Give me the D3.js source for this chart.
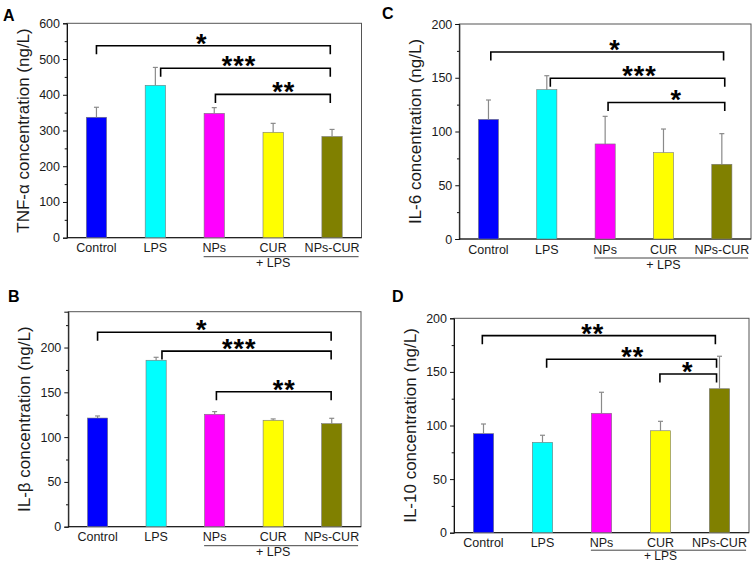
<!DOCTYPE html>
<html>
<head>
<meta charset="utf-8">
<script src="https://cdn.jsdelivr.net/npm/d3@7/dist/d3.min.js"></script>
<style>
  html, body { margin: 0; padding: 0; background: #fff; }
  svg { display: block; font-family: "Liberation Sans", Arial, sans-serif; }
</style>
</head>
<body>
<svg id="chart" width="753" height="563"></svg>
<script>
// ---------------- data ----------------
const categories = ["Control", "LPS", "NPs", "CUR", "NPs-CUR"];
const barColors = ["#0000ff", "#00ffff", "#ff00ff", "#ffff00", "#808000"];

const tnfValues  = [337, 426.5, 348, 295, 283];
const tnfErrors  = [28, 50, 16, 25, 20];
const tnfTicks   = [0, 100, 200, 300, 400, 500, 600];

const il1bValues = [121.3, 185.8, 125.5, 118.8, 115];
const il1bErrors = [2.3, 3.3, 3, 1.5, 6];
const il1bTicks  = [0, 50, 100, 150, 200];

const il6Values  = [111.3, 138.9, 88.4, 80.3, 69.5];
const il6Errors  = [18, 13, 25.7, 22, 28.5];
const il6Ticks   = [0, 50, 100, 150, 200];

const il10Values = [92.4, 84.3, 111.4, 95.1, 134.3];
const il10Errors = [9, 6.6, 19.6, 8.8, 30.3];
const il10Ticks  = [0, 50, 100, 150, 200];

// significance brackets: [from position, to position, level, label, label position]
const tnfBrackets  = [[1.0, 4.97, 537, "*", 2.79], [2.09, 4.97, 474, "***", 3.42], [3.02, 4.97, 401, "**", 4.18]];
const il1bBrackets = [[1.0, 4.99, 217, "*", 2.78], [2.1, 4.99, 196, "***", 3.42], [3.03, 4.99, 150.7, "**", 4.19]];
const il6Brackets  = [[1.04, 5.03, 174, "*", 3.17], [2.06, 5.05, 149.5, "***", 3.59], [3.05, 5.05, 127, "*", 4.22]];
const il10Brackets = [[0.98, 4.93, 183.8, "**", 2.85], [2.07, 4.95, 161.8, "**", 3.53], [3.99, 4.95, 148, "*", 4.46]];

const groupLabel = "+ LPS";

// ---------------- layout ----------------
const panels = [
  { letter: "A", title: "TNF-\u03b1 concentration (ng/L)", values: tnfValues, errors: tnfErrors, ticks: tnfTicks, ymax: 600, minor: 50,
    brackets: tnfBrackets, box: { l: 67, t: 23.3, r: 361.5, b: 237.7 }, letterPos: [3, 20.7], grpLine: 19, grpText: 29.5, grpSize: 12.5 },
  { letter: "B", title: "IL-\u03b2 concentration (ng/L)", values: il1bValues, errors: il1bErrors, ticks: il1bTicks, ymax: 240, minor: 25,
    brackets: il1bBrackets, box: { l: 68.3, t: 311.7, r: 361, b: 526.7 }, letterPos: [8, 301.7], grpLine: 19, grpText: 29.5, grpSize: 12.5 },
  { letter: "C", title: "IL-6 concentration (ng/L)", values: il6Values, errors: il6Errors, ticks: il6Ticks, ymax: 200, minor: 25,
    brackets: il6Brackets, box: { l: 459.3, t: 24, r: 751, b: 239 }, letterPos: [382, 18.5], grpLine: 19, grpText: 29.5, grpSize: 12.5 },
  { letter: "D", title: "IL-10 concentration (ng/L)", values: il10Values, errors: il10Errors, ticks: il10Ticks, ymax: 200, minor: 25,
    brackets: il10Brackets, box: { l: 454, t: 318.3, r: 749, b: 532.7 }, letterPos: [392, 301.7], grpLine: 17.5, grpText: 27.3, grpSize: 12 }
];

const svg = d3.select("#chart");
const textColor = "#1a1a1a";
const starSize = 27;

panels.forEach(p => {
  const g = svg.append("g");
  const B = p.box;
  const x = d3.scaleLinear().domain([0.5, 5.5]).range([B.l, B.r]);
  const y = d3.scaleLinear().domain([0, p.ymax]).range([B.b, B.t]);
  const step = x(2) - x(1);
  const bw = step * 0.345;

  // frame
  g.append("rect").attr("x", B.l).attr("y", B.t).attr("width", B.r - B.l).attr("height", B.b - B.t)
    .attr("fill", "none").attr("stroke", "#555").attr("stroke-width", 1);

  // y axis
  const yAxis = d3.axisLeft(y).tickValues(p.ticks).tickSize(4).tickPadding(3).tickFormat(d3.format("d"));
  const ya = g.append("g").attr("transform", `translate(${B.l},0)`).call(yAxis);
  ya.select(".domain").attr("stroke", "#111");
  ya.selectAll(".tick line").attr("stroke", "#111");
  ya.selectAll(".tick text").attr("font-size", 12.5).attr("fill", textColor)
    .attr("font-family", "Liberation Sans, Arial, sans-serif");
  const minorVals = d3.range(0, p.ymax + 0.001, p.minor).filter(v => p.ticks.indexOf(v) < 0);
  const ym = d3.axisLeft(y).tickValues(minorVals).tickSize(2.3).tickFormat("");
  const yma = g.append("g").attr("transform", `translate(${B.l},0)`).call(ym);
  yma.select(".domain").remove();
  yma.selectAll(".tick line").attr("stroke", "#111");

  // x axis baseline (no ticks)
  g.append("line").attr("x1", B.l).attr("x2", B.r).attr("y1", B.b).attr("y2", B.b)
    .attr("stroke", "#111").attr("stroke-width", 1);

  // bars
  g.selectAll("rect.bar").data(p.values).join("rect").attr("class", "bar")
    .attr("x", (d, i) => x(i + 1) - bw / 2).attr("width", bw)
    .attr("y", d => y(d)).attr("height", d => y(0) - y(d))
    .attr("fill", (d, i) => barColors[i]).attr("stroke", "#777").attr("stroke-width", 0.6);

  // error bars
  const eg = g.append("g").attr("stroke", "#8a8a8a").attr("stroke-width", 1.2);
  p.values.forEach((v, i) => {
    const cx = x(i + 1);
    eg.append("line").attr("x1", cx).attr("x2", cx).attr("y1", y(v)).attr("y2", y(v + p.errors[i]));
    eg.append("line").attr("x1", cx - 2.5).attr("x2", cx + 2.5).attr("y1", y(v + p.errors[i])).attr("y2", y(v + p.errors[i]));
  });

  // category labels
  g.selectAll("text.cat").data(categories).join("text").attr("class", "cat")
    .attr("x", (d, i) => x(i + 1)).attr("y", B.b + 14.5)
    .attr("text-anchor", "middle").attr("font-size", 12.5).attr("fill", textColor).text(d => d);

  // + LPS group line and label
  g.append("line").attr("x1", x(2.82)).attr("x2", x(5.45)).attr("y1", B.b + p.grpLine).attr("y2", B.b + p.grpLine)
    .attr("stroke", "#444").attr("stroke-width", 1);
  g.append("text").attr("x", x(4)).attr("y", B.b + p.grpText).attr("text-anchor", "middle")
    .attr("font-size", p.grpSize).attr("fill", textColor).text(groupLabel);

  // brackets
  p.brackets.forEach(br => {
    const [a, b, lvl, lab, lx] = br;
    const yy = y(lvl);
    g.append("path")
      .attr("d", `M${x(a)},${yy + 8.5}V${yy}H${x(b)}V${yy + 8.5}`)
      .attr("fill", "none").attr("stroke", "#000").attr("stroke-width", 1.6);
    g.append("text").attr("x", x(lx)).attr("y", yy - 9 + 0.59 * starSize)
      .attr("text-anchor", "middle").attr("font-size", starSize).attr("font-weight", "bold")
      .attr("fill", "#000").attr("letter-spacing", 1).text(lab);
  });

  // axis title
  g.append("text")
    .attr("transform", `translate(${B.l - 38},${(B.t + B.b) / 2}) rotate(-90)`)
    .attr("text-anchor", "middle").attr("font-size", 17).attr("fill", textColor).text(p.title);

  // panel letter
  g.append("text").attr("x", p.letterPos[0]).attr("y", p.letterPos[1])
    .attr("font-size", 16).attr("font-weight", "bold").attr("fill", "#000").text(p.letter);
});
</script>
</body>
</html>
